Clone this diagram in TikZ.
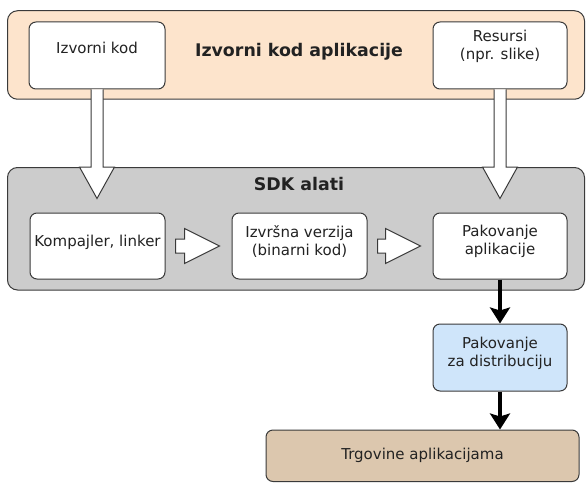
\documentclass[tikz,border=0pt]{standalone}
\usepackage{fontspec}
\setmainfont{DejaVu Sans}
\usetikzlibrary{arrows.meta,calc}
\definecolor{appfill}{HTML}{FDE4CC}
\definecolor{sdkfill}{HTML}{CCCCCC}
\definecolor{distfill}{HTML}{CFE5FA}
\definecolor{storefill}{HTML}{DCC7AE}
\definecolor{edge}{HTML}{3A3A3A}
\definecolor{ink}{HTML}{222222}

\begin{document}
\begin{tikzpicture}[x=1pt,y=-1pt,
  container/.style={draw=edge, line width=1pt, rounded corners=10pt, inner sep=0pt},
  card/.style={draw=edge, line width=1pt, fill=white, rounded corners=7pt,
    minimum width=135pt, minimum height=66pt, inner sep=0pt},
  txt/.style={text=ink, font=\fontsize{15}{18}\selectfont, align=center, inner sep=0pt},
  title/.style={text=ink, font=\fontsize{17.4}{21}\selectfont\bfseries, inner sep=0pt},
  hollowdown/.style={draw=edge, line width=1pt, fill=white, line join=miter,
    to path={($(\tikztostart)+(-6,0)$) -- ($(\tikztotarget)+(-6,0)$)
      -- ($(\tikztotarget)+(-17.5,0)$) -- ($(\tikztotarget)+(0,31.5)$)
      -- ($(\tikztotarget)+(17.5,0)$) -- ($(\tikztotarget)+(6,0)$)
      -- ($(\tikztostart)+(6,0)$)}},
  hollowright/.style={draw=edge, line width=1pt, fill=white, line join=miter,
    to path={($(\tikztostart)+(0,-7)$) -- ($(\tikztotarget)+(-35,-7)$)
      -- ($(\tikztotarget)+(-35,-17.5)$) -- (\tikztotarget)
      -- ($(\tikztotarget)+(-35,17.5)$) -- ($(\tikztotarget)+(-35,7)$)
      -- ($(\tikztostart)+(0,7)$) -- cycle}},
  flow/.style={line width=4pt, draw=black,
    -{Stealth[length=16pt,width=20pt,inset=3pt]}}
]
\useasboundingbox (0,0) rectangle (588,484);

% application sources
\node[container, fill=appfill, minimum width=577pt, minimum height=88.5pt] (app) at (296,55) {};
\node[title] (appT) at (299,51.5) {Izvorni kod aplikacije};
\node[card, minimum width=136pt, minimum height=67pt] (src) at (97,55.5) {};
\node[txt] (srcT) at (97,47.5) {Izvorni kod};
\node[card, minimum width=134pt, minimum height=67pt] (res) at (500,55.5) {};
\node[txt] (resT) at (500,46) {Resursi\\(npr. slike)};

% SDK tool chain
\node[container, fill=sdkfill, minimum width=577pt, minimum height=122.5pt] (sdk) at (296,228.75) {};
\node[title] (sdkT) at (299,184.4) {SDK alati};
\node[card] (comp) at (97.5,246) {};
\node[txt] (compT) at (97.5,242.5) {Kompajler, linker};
\node[card] (exe) at (299.5,246) {};
\node[txt] (exeT) at (299.5,241) {Izvršna verzija\\(binarni kod)};
\node[card, minimum width=134pt] (pack) at (500,246) {};
\node[txt] (packT) at (500,241.5) {Pakovanje\\aplikacije};

% distribution
\node[card, fill=distfill, minimum width=134pt, minimum height=67pt] (dist) at (500,357.5) {};
\node[txt] (distT) at (500,353.4) {Pakovanje\\za distribuciju};
\node[card, fill=storefill, minimum width=313pt, minimum height=51.5pt] (store) at (422.5,455.75) {};
\node[txt] (storeT) at (422.5,455.4) {Trgovine aplikacijama};

% hollow block arrows
\coordinate (srcIn) at (src.south |- sdk.north);
\coordinate (resIn) at (res.south |- sdk.north);
\draw[hollowdown] (src.south) to (srcIn);
\draw[hollowdown] (res.south) to (resIn);

\coordinate (c1) at ($(comp.east)+(10,0)$);
\coordinate (e1) at ($(exe.west)+(-12,0)$);
\coordinate (c2) at ($(exe.east)+(10,0)$);
\coordinate (e2) at ($(pack.west)+(-12,0)$);
\draw[hollowright] (c1) to (e1);
\draw[hollowright] (c2) to (e2);

% packaging flow
\coordinate (storeIn) at (dist.south |- store.north);
\draw[flow] (pack.south) -- (dist.north);
\draw[flow] (dist.south) -- (storeIn);
\end{tikzpicture}
\end{document}
